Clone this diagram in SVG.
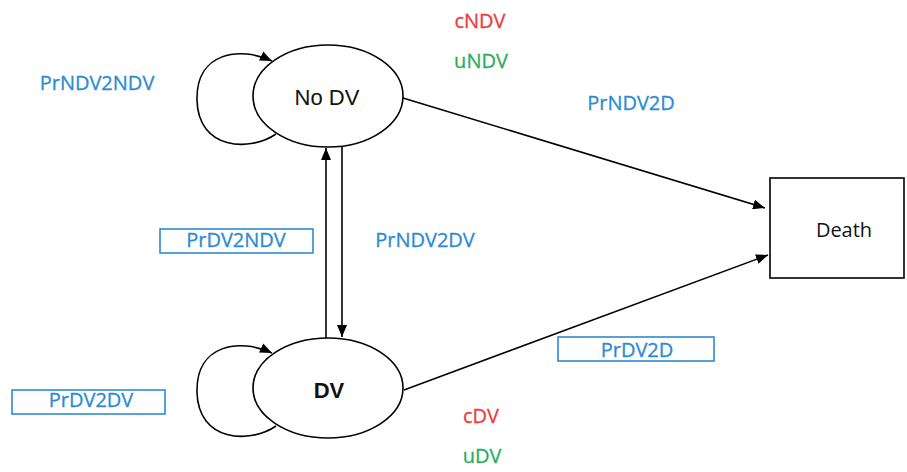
<svg xmlns="http://www.w3.org/2000/svg" width="907" height="472" viewBox="0 0 907 472">
<defs>
<marker id="ah" viewBox="0 0 12 10" refX="12" refY="5" markerWidth="12" markerHeight="10" markerUnits="userSpaceOnUse" orient="auto"><path d="M0,0 L12,5 L0,10 z" fill="#000"/></marker>
<style>
.n{fill:#fff;stroke:#000;stroke-width:1.6}
.c{fill:none;stroke:#000;stroke-width:1.6;marker-end:url(#ah)}
.lb,.r,.g{font-family:"Open Sans","Liberation Sans",sans-serif;font-size:20px;text-anchor:middle;stroke-width:0.3}
.lb{fill:#2C8BD3;stroke:#2C8BD3}
.r{fill:#F03A3C;stroke:#F03A3C}
.g{fill:#2AAE5C;stroke:#2AAE5C}
.bx{fill:none;stroke:#2C8BD3;stroke-width:1.6}
.t{font-family:"Liberation Sans",Arial,sans-serif;font-size:22px;fill:#111;text-anchor:middle}
</style>
</defs>
<g id="connectors">
<path class="c" d="M276,134 C250,152 198,150 197,100 C196,52 240,46 272,61"/>
<path class="c" d="M276,426 C250,444 198,442 197,392 C196,344 240,338 272,353"/>
<line class="c" x1="326" y1="338" x2="326" y2="148"/>
<line class="c" x1="342" y1="147" x2="342" y2="337"/>
<line class="c" x1="403" y1="98" x2="765" y2="208"/>
<line class="c" x1="404" y1="390" x2="768" y2="255"/>
</g>
<g id="nodv"><ellipse class="n" cx="328" cy="96" rx="75" ry="51"/><text class="t" x="327" y="105">No DV</text></g>
<g id="dv"><ellipse class="n" cx="328" cy="388" rx="75" ry="50"/><text class="t" x="329" y="398" font-weight="bold">DV</text></g>
<g id="death"><rect class="n" x="770" y="178" width="134" height="100"/><text class="t" x="844" y="237" style="font-family:'Open Sans','Liberation Sans',sans-serif;font-size:20px">Death</text></g>
<g id="labels">
<text class="lb" x="97" y="90">PrNDV2NDV</text>
<text class="r" x="480" y="28">cNDV</text>
<text class="g" x="481" y="68">uNDV</text>
<text class="lb" x="631" y="110">PrNDV2D</text>
<rect class="bx" x="160" y="229" width="153" height="24"/>
<text class="lb" x="236" y="247">PrDV2NDV</text>
<text class="lb" x="425" y="247">PrNDV2DV</text>
<rect class="bx" x="12" y="390" width="153" height="24"/>
<text class="lb" x="91" y="407">PrDV2DV</text>
<rect class="bx" x="558" y="337" width="156" height="24"/>
<text class="lb" x="637" y="357">PrDV2D</text>
<text class="r" x="481" y="423">cDV</text>
<text class="g" x="482" y="463">uDV</text>
</g>
</svg>
